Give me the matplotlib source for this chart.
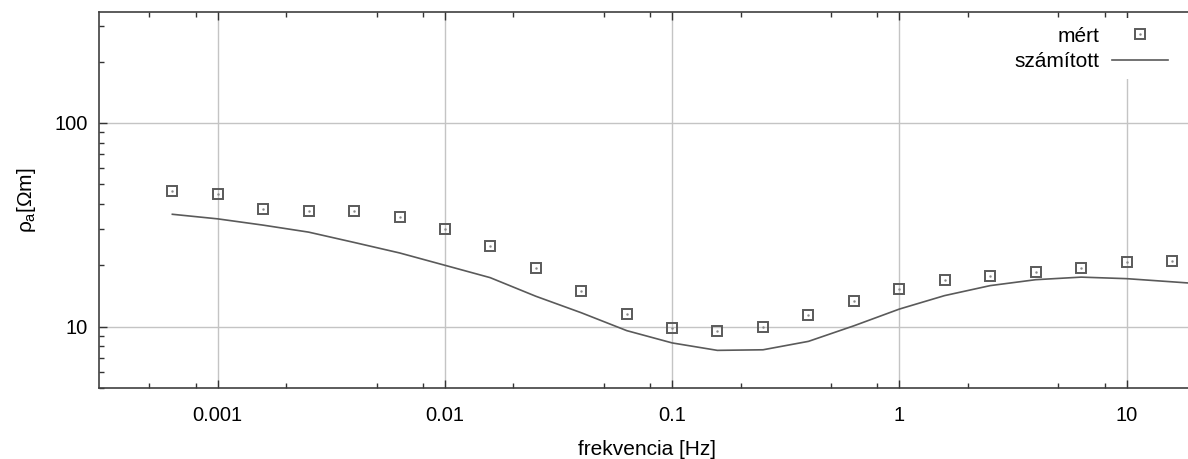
import matplotlib
matplotlib.use('Agg')
import matplotlib.pyplot as plt
from matplotlib.ticker import LogLocator, NullFormatter, FixedLocator, FixedFormatter

plt.rcParams['font.family'] = ['Liberation Sans', 'DejaVu Sans']
plt.rcParams['mathtext.fontset'] = 'custom'
plt.rcParams['mathtext.rm'] = 'Liberation Sans'
plt.rcParams['mathtext.it'] = 'Liberation Sans'

# measured apparent resistivity (Ohm m) vs frequency (Hz)
freq_meas = [0.000631, 0.001, 0.00158, 0.00251, 0.00398, 0.00631, 0.01, 0.0158,
             0.0251, 0.0398, 0.0631, 0.1, 0.158, 0.251, 0.398, 0.631, 1.0, 1.58,
             2.51, 3.98, 6.31, 10.0, 15.8]
rho_meas = [46.4, 44.7, 38.0, 36.9, 36.9, 34.6, 30.1, 24.8,
            19.5, 14.9, 11.5, 9.9, 9.5, 10.0, 11.4, 13.3, 15.3, 16.9,
            17.8, 18.6, 19.5, 20.7, 20.9]

# computed model response
freq_calc = [0.000631, 0.001, 0.00158, 0.00251, 0.00398, 0.00631, 0.01, 0.0158,
             0.0251, 0.0398, 0.0631, 0.1, 0.158, 0.251, 0.398, 0.631, 1.0, 1.58,
             2.51, 3.98, 6.31, 10.0, 15.8, 25.1]
rho_calc = [35.6, 33.8, 31.5, 29.1, 25.9, 23.0, 20.0, 17.4,
            14.1, 11.7, 9.56, 8.32, 7.65, 7.7, 8.47, 10.1, 12.2, 14.2,
            15.9, 17.0, 17.5, 17.2, 16.6, 16.0]

x_ticks = [0.001, 0.01, 0.1, 1, 10]
x_labels = ['0.001', '0.01', '0.1', '1', '10']
y_ticks = [10, 100]
y_labels = ['10', '100']

fig = plt.figure(figsize=(11.88, 4.59), dpi=100)
ax = fig.add_axes([99 / 1188, 1 - 388 / 459, (1195 - 99) / 1188, (388 - 12) / 459])
ax.set_xscale('log')
ax.set_yscale('log')
ax.set_xlim(0.0003, 20)
ax.set_ylim(5, 350)

gray = '#5a5a5a'
line, = ax.plot(freq_calc, rho_calc, color=gray, lw=1.2, label='számított', zorder=3)
sq, = ax.plot(freq_meas, rho_meas, ls='none', marker='s', ms=7.8, mfc='none',
              mec=gray, mew=1.4, zorder=4)
dot, = ax.plot(freq_meas, rho_meas, ls='none', marker='.', ms=1.5, color='#888888', zorder=4)

ax.xaxis.set_major_locator(FixedLocator(x_ticks))
ax.xaxis.set_major_formatter(FixedFormatter(x_labels))
ax.xaxis.set_minor_locator(LogLocator(base=10, subs=(2, 5, 8), numticks=20))
ax.xaxis.set_minor_formatter(NullFormatter())
ax.yaxis.set_major_locator(FixedLocator(y_ticks))
ax.yaxis.set_major_formatter(FixedFormatter(y_labels))
ax.yaxis.set_minor_locator(LogLocator(base=10, subs=range(2, 10), numticks=20))
ax.yaxis.set_minor_formatter(NullFormatter())

ax.tick_params(which='both', direction='in', top=True, right=False, colors='#333333',
               labelcolor='black', labelsize=14.5, width=1.0)
ax.tick_params(which='major', length=6)
ax.tick_params(which='minor', length=3.5)
ax.tick_params(axis='x', which='major', pad=13)
ax.tick_params(axis='y', which='major', pad=8)

ax.grid(True, which='major', color='#c4c4c4', lw=1.0)
for s in ax.spines.values():
    s.set_color('#404040')
    s.set_linewidth(1.2)

ax.set_xlabel('frekvencia [Hz]', fontsize=15, labelpad=11)
ax.set_ylabel(r'$\rho_a$[Ωm]', fontsize=15, labelpad=12)

# legend labels sit left of their handles, on a white patch over the grid
leg = ax.legend([(sq, dot), line], ['mért', 'számított'], loc='upper right',
                bbox_to_anchor=((1183 - 99) / 1096, 1.0),
                markerfirst=False, frameon=True, fontsize=15, handlelength=2.7,
                handletextpad=0.6, borderpad=0.4, labelspacing=0.3, framealpha=1,
                borderaxespad=0.3)
leg.get_frame().set_edgecolor('none')
leg.get_frame().set_facecolor('white')

fig.savefig('out.png', dpi=100)
